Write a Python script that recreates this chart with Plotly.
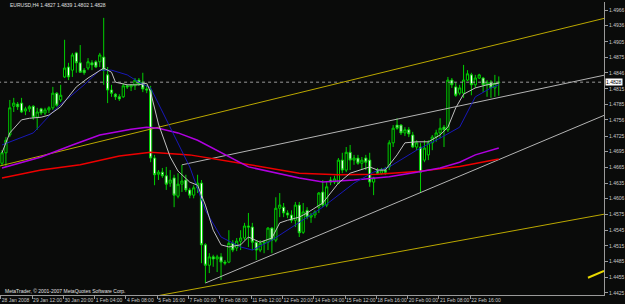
import plotly.graph_objects as go

TITLE = "EURUSD,H4 1.4827 1.4839 1.4802 1.4828"
COPYRIGHT = "MetaTrader, \u00a9 2001-2007 MetaQuotes Software Corp."
BID = 1.4828

OPEN = [
    1.4673, 1.4693, 1.4727, 1.4782, 1.4786, 1.4788, 1.4773, 1.4777, 1.4782, 1.4761,
    1.4777, 1.4769, 1.4775, 1.4779, 1.4807, 1.4794, 1.4838, 1.4857, 1.4851, 1.4884,
    1.4865, 1.4851, 1.4855, 1.4865, 1.4867, 1.4867, 1.4876, 1.4842, 1.4813, 1.4805,
    1.4800, 1.4800, 1.4821, 1.4819, 1.4821, 1.4832, 1.4828, 1.4815, 1.4813, 1.4683,
    1.4652, 1.4656, 1.4649, 1.4635, 1.4645, 1.4610, 1.4633, 1.4641, 1.4622, 1.4612,
    1.4626, 1.4635, 1.4517, 1.4478, 1.4494, 1.4490, 1.4494, 1.4484, 1.4484, 1.4520,
    1.4511, 1.4524, 1.4530, 1.4553, 1.4551, 1.4522, 1.4507, 1.4520, 1.4522, 1.4549,
    1.4526, 1.4587, 1.4589, 1.4578, 1.4574, 1.4564, 1.4593, 1.4541, 1.4583, 1.4570,
    1.4574, 1.4589, 1.4618, 1.4593, 1.4641, 1.4637, 1.4635, 1.4679, 1.4660, 1.4694,
    1.4679, 1.4683, 1.4673, 1.4683, 1.4679, 1.4637, 1.4660, 1.4654, 1.4660, 1.4666,
    1.4712, 1.4746, 1.4746, 1.4731, 1.4737, 1.4727, 1.4704, 1.4704, 1.4679, 1.4689,
    1.4712, 1.4723, 1.4731, 1.4742, 1.4737, 1.4832, 1.4819, 1.4807, 1.4807, 1.4832,
    1.4842, 1.4823, 1.4836, 1.4836, 1.4823, 1.4828, 1.4817, 1.4827]
HIGH = [
    1.4698, 1.4723, 1.4794, 1.4798, 1.4790, 1.4798, 1.4781, 1.4784, 1.4784, 1.4779,
    1.4779, 1.4779, 1.4782, 1.4819, 1.4809, 1.4823, 1.4909, 1.4865, 1.4884, 1.4886,
    1.4899, 1.4855, 1.4874, 1.4870, 1.4870, 1.4884, 1.4951, 1.4857, 1.4823, 1.4807,
    1.4805, 1.4826, 1.4824, 1.4824, 1.4836, 1.4836, 1.4846, 1.4823, 1.4821, 1.4689,
    1.4660, 1.4664, 1.4666, 1.4660, 1.4651, 1.4654, 1.4670, 1.4651, 1.4626, 1.4631,
    1.4651, 1.4641, 1.4520, 1.4501, 1.4498, 1.4498, 1.4501, 1.4488, 1.4545, 1.4526,
    1.4530, 1.4545, 1.4559, 1.4578, 1.4559, 1.4526, 1.4526, 1.4526, 1.4551, 1.4551,
    1.4608, 1.4616, 1.4597, 1.4583, 1.4583, 1.4599, 1.4599, 1.4597, 1.4589, 1.4578,
    1.4583, 1.4618, 1.4641, 1.4637, 1.4647, 1.4649, 1.4683, 1.4693, 1.4704, 1.4708,
    1.4689, 1.4689, 1.4685, 1.4689, 1.4693, 1.4647, 1.4664, 1.4664, 1.4666, 1.4717,
    1.4746, 1.4759, 1.4748, 1.4742, 1.4742, 1.4733, 1.4717, 1.4712, 1.4717, 1.4717,
    1.4727, 1.4737, 1.4759, 1.4746, 1.4838, 1.4836, 1.4828, 1.4823, 1.4861, 1.4851,
    1.4846, 1.4842, 1.4844, 1.4838, 1.4832, 1.4832, 1.4842, 1.4839]
LOW = [
    1.4668, 1.4666, 1.4723, 1.4771, 1.4775, 1.4769, 1.4765, 1.4771, 1.4756, 1.4737,
    1.4765, 1.4765, 1.4769, 1.4775, 1.4781, 1.4790, 1.4836, 1.4832, 1.4838, 1.4846,
    1.4846, 1.4842, 1.4851, 1.4851, 1.4855, 1.4857, 1.4823, 1.4788, 1.4800, 1.4794,
    1.4792, 1.4798, 1.4815, 1.4811, 1.4813, 1.4821, 1.4809, 1.4807, 1.4675, 1.4631,
    1.4641, 1.4645, 1.4622, 1.4628, 1.4589, 1.4606, 1.4618, 1.4618, 1.4606, 1.4606,
    1.4616, 1.4482, 1.4444, 1.4463, 1.4475, 1.4465, 1.4450, 1.4478, 1.4482, 1.4503,
    1.4505, 1.4507, 1.4526, 1.4513, 1.4507, 1.4488, 1.4503, 1.4501, 1.4507, 1.4501,
    1.4522, 1.4570, 1.4570, 1.4568, 1.4559, 1.4551, 1.4532, 1.4538, 1.4566, 1.4559,
    1.4568, 1.4578, 1.4589, 1.4589, 1.4631, 1.4633, 1.4633, 1.4654, 1.4656, 1.4660,
    1.4670, 1.4670, 1.4660, 1.4660, 1.4628, 1.4612, 1.4651, 1.4651, 1.4651, 1.4660,
    1.4704, 1.4737, 1.4727, 1.4725, 1.4723, 1.4702, 1.4698, 1.4616, 1.4675, 1.4679,
    1.4698, 1.4714, 1.4721, 1.4704, 1.4733, 1.4817, 1.4800, 1.4803, 1.4798, 1.4830,
    1.4803, 1.4817, 1.4834, 1.4809, 1.4800, 1.4798, 1.4800, 1.4802]
CLOSE = [
    1.4693, 1.4717, 1.4779, 1.4788, 1.4781, 1.4771, 1.4777, 1.4781, 1.4761, 1.4771,
    1.4769, 1.4775, 1.4779, 1.4807, 1.4784, 1.4803, 1.4855, 1.4838, 1.4880, 1.4865,
    1.4847, 1.4846, 1.4867, 1.4861, 1.4857, 1.4880, 1.4851, 1.4813, 1.4807, 1.4800,
    1.4796, 1.4821, 1.4819, 1.4823, 1.4832, 1.4824, 1.4815, 1.4813, 1.4683, 1.4651,
    1.4656, 1.4649, 1.4633, 1.4641, 1.4612, 1.4633, 1.4639, 1.4622, 1.4612, 1.4626,
    1.4635, 1.4517, 1.4478, 1.4494, 1.4490, 1.4494, 1.4484, 1.4482, 1.4520, 1.4507,
    1.4524, 1.4530, 1.4553, 1.4551, 1.4522, 1.4507, 1.4520, 1.4522, 1.4549, 1.4526,
    1.4587, 1.4593, 1.4578, 1.4574, 1.4564, 1.4593, 1.4540, 1.4580, 1.4570, 1.4574,
    1.4580, 1.4616, 1.4593, 1.4628, 1.4637, 1.4643, 1.4679, 1.4660, 1.4694, 1.4679,
    1.4683, 1.4673, 1.4679, 1.4675, 1.4637, 1.4645, 1.4654, 1.4660, 1.4656, 1.4712,
    1.4740, 1.4740, 1.4731, 1.4737, 1.4729, 1.4704, 1.4712, 1.4656, 1.4702, 1.4712,
    1.4723, 1.4731, 1.4740, 1.4737, 1.4832, 1.4823, 1.4803, 1.4817, 1.4832, 1.4844,
    1.4823, 1.4836, 1.4842, 1.4823, 1.4828, 1.4817, 1.4826, 1.4828]

FAST_MA_BARS = [0, 2, 5, 7, 10, 12, 15, 17, 19, 22, 24, 26, 28, 29, 32, 35, 37, 38, 40, 43,
                45, 48, 50, 52, 54, 56, 58, 61, 63, 66, 69, 71, 73, 76, 78, 82, 86, 89, 94, 96,
                98, 101, 103, 106, 109, 112, 114, 116, 118, 121, 124, 127]
FAST_MA = [1.4693, 1.4731, 1.4756, 1.4759, 1.4761, 1.4765, 1.4781, 1.4800, 1.4819, 1.4836,
           1.4846, 1.4855, 1.4847, 1.4828, 1.4823, 1.4823, 1.4826, 1.4809, 1.4748, 1.4685,
           1.4658, 1.4637, 1.4631, 1.4593, 1.4545, 1.4517, 1.4513, 1.4517, 1.4532, 1.4522,
           1.4530, 1.4559, 1.4564, 1.4570, 1.4578, 1.4597, 1.4635, 1.4654, 1.4666, 1.4660,
           1.4660, 1.4689, 1.4712, 1.4714, 1.4714, 1.4727, 1.4742, 1.4779, 1.4805, 1.4817,
           1.4823, 1.4826]
BLUE_MA_BARS = [0, 8, 14, 21, 25, 28, 32, 35, 38, 43, 48, 52, 56, 61, 64, 69, 73, 82, 90, 95,
                99, 106, 112, 117, 121, 125, 127]
BLUE_MA = [1.4708, 1.4731, 1.4779, 1.4823, 1.4851, 1.4851, 1.4842, 1.4828, 1.4817, 1.4742,
           1.4666, 1.4583, 1.4532, 1.4513, 1.4507, 1.4526, 1.4545, 1.4589, 1.4635, 1.4656,
           1.4666, 1.4698, 1.4721, 1.4742, 1.4800, 1.4817, 1.4823]
PURPLE_MA_BARS = [0, 10, 18, 25, 33, 37, 40, 45, 50, 56, 63, 76, 82, 90, 99, 106, 112, 117, 121, 127]
PURPLE_MA = [1.4664, 1.4685, 1.4708, 1.4727, 1.4738, 1.4742, 1.4740, 1.4731, 1.4717, 1.4693,
             1.4666, 1.4645, 1.4637, 1.4641, 1.4647, 1.4656, 1.4664, 1.4675, 1.4689, 1.4702]
RED_MA_BARS = [0, 10, 20, 30, 38, 48, 61, 76, 86, 96, 106, 117, 127]
RED_MA = [1.4645, 1.4660, 1.4670, 1.4687, 1.4694, 1.4689, 1.4673, 1.4654, 1.4651, 1.4652,
          1.4657, 1.4667, 1.4681]

# trend lines: anchor (bar, price) pairs
YELLOW_UPPER_BARS = [-1, 155]
YELLOW_UPPER = [1.4667, 1.4952]
YELLOW_LOWER_BARS = [40, 155]
YELLOW_LOWER = [1.4420, 1.4577]
SILVER_UPPER_BARS = [46, 155]
SILVER_UPPER = [1.4670, 1.4843]
SILVER_LOWER_BARS = [52, 155]
SILVER_LOWER = [1.4444, 1.4768]
ARROW_BARS = [149.8, 153.9]
ARROW = [1.4454, 1.4467]

TIME_TICK_BARS = [0, 8, 16, 24, 32, 40, 48, 56, 64, 72, 80, 88, 96, 104, 112, 120]
TIME_TICK_LABELS = ["28 Jan 2008", "29 Jan 12:00", "30 Jan 20:00", "1 Feb 04:00",
                    "4 Feb 08:00", "5 Feb 16:00", "7 Feb 00:00", "8 Feb 08:00",
                    "11 Feb 12:00", "12 Feb 20:00", "14 Feb 04:00", "15 Feb 12:00",
                    "18 Feb 16:00", "20 Feb 00:00", "21 Feb 08:00", "22 Feb 16:00"]
PRICE_TICKS = [1.4966, 1.4936, 1.4905, 1.4875, 1.4846, 1.4815, 1.4785, 1.4756, 1.4725,
               1.4695, 1.4665, 1.4635, 1.4606, 1.4575, 1.4545, 1.4515, 1.4485, 1.4455, 1.4425]

BG = "#0a0b0a"
FG = "#c8c8c8"
FONT = "Liberation Sans"

bars = list(range(len(CLOSE)))
fig = go.Figure()

fig.add_trace(go.Candlestick(
    x=bars, open=OPEN, high=HIGH, low=LOW, close=CLOSE,
    increasing=dict(line=dict(color="#00d000", width=1), fillcolor="#000000"),
    decreasing=dict(line=dict(color="#00d000", width=1), fillcolor="#ffffff"),
    whiskerwidth=0, hoverinfo="skip", showlegend=False))

def line(xs, ys, color, width=1, dash="solid"):
    fig.add_trace(go.Scatter(x=xs, y=ys, mode="lines", showlegend=False, hoverinfo="skip",
                             line=dict(color=color, width=width, dash=dash)))

line([-1, 160], [BID, BID], "#9a9a9a", 1, "dot")
line(YELLOW_UPPER_BARS, YELLOW_UPPER, "#bba800")
line(YELLOW_LOWER_BARS, YELLOW_LOWER, "#bba800")
line(SILVER_UPPER_BARS, SILVER_UPPER, "#b4b4b4")
line(SILVER_LOWER_BARS, SILVER_LOWER, "#b4b4b4")
line(RED_MA_BARS, RED_MA, "#ee0000", 1.5)
line(PURPLE_MA_BARS, PURPLE_MA, "#b000e0", 1.5)
line(BLUE_MA_BARS, BLUE_MA, "#1818b8", 1)
line(FAST_MA_BARS, FAST_MA, "#c0c0c0", 1)
line(ARROW_BARS, ARROW, "#e8d800", 2)

fig.update_layout(
    width=625, height=304,
    margin=dict(l=0, r=19, t=2, b=9),
    paper_bgcolor=BG, plot_bgcolor=BG,
    boxgap=0.25, boxgroupgap=0.25,
    font=dict(family=FONT, size=5, color=FG),
    xaxis=dict(range=[-0.51, 153.9], rangeslider=dict(visible=False),
               showgrid=False, zeroline=False, showline=True, linecolor="#9a9a9a", linewidth=1,
               ticks="outside", ticklen=3, tickcolor="#9a9a9a", tickangle=0,
               tickvals=[b - 0.3 for b in TIME_TICK_BARS], ticktext=TIME_TICK_LABELS,
               ticklabelposition="outside right",
               tickfont=dict(family=FONT, size=5, color=FG)),
    yaxis=dict(range=[1.44211, 1.49813], side="right",
               showgrid=False, zeroline=False, showline=True, linecolor="#9a9a9a", linewidth=1,
               ticks="outside", ticklen=3, tickcolor="#9a9a9a",
               tickvals=PRICE_TICKS, ticktext=[f"{v:.4f}" for v in PRICE_TICKS],
               tickfont=dict(family=FONT, size=5, color=FG)),
    annotations=[
        dict(text=TITLE, xref="paper", yref="paper", x=8 / 606, y=(295 - 5.5) / 293,
             xanchor="left", yanchor="middle", showarrow=False,
             font=dict(family=FONT, size=5, color="#e0e0e0")),
        dict(text=COPYRIGHT, xref="paper", yref="paper", x=3 / 606, y=(295 - 291) / 293,
             xanchor="left", yanchor="middle", showarrow=False,
             font=dict(family=FONT, size=5, color="#e0e0e0")),
        dict(text=f"{BID:.4f}", xref="paper", yref="y", x=1, y=BID, xanchor="left",
             yanchor="middle", xshift=1, showarrow=False, bgcolor="#ffffff", borderpad=0,
             font=dict(family=FONT, size=5, color="#000000")),
    ],
)

fig.write_html("out.html")
